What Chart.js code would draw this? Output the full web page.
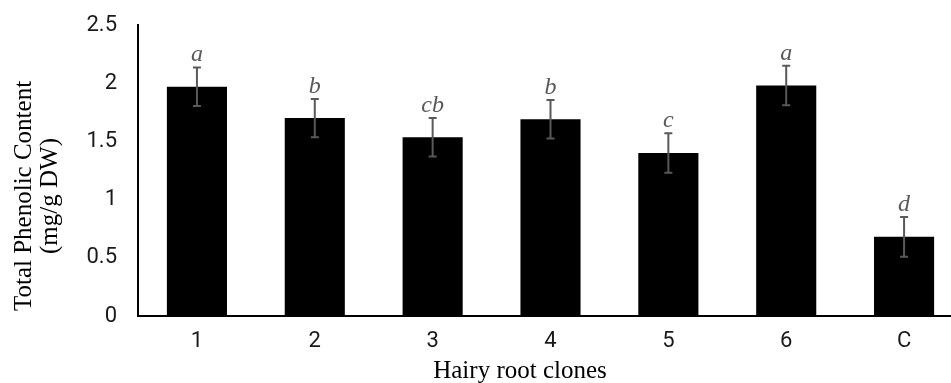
<!DOCTYPE html>
<html>
<head>
<meta charset="utf-8">
<script src="https://cdn.jsdelivr.net/npm/chart.js@4/dist/chart.umd.min.js"></script>
<style>
  html, body { margin: 0; padding: 0; background: #fff; overflow: hidden; }
  #wrap { width: 963px; height: 383px; position: relative; }
</style>
</head>
<body>
<div id="wrap"><canvas id="myChart"></canvas></div>
<script>
// chart data
var clones = ["1", "2", "3", "4", "5", "6", "C"];
var phenolic = [1.97, 1.70, 1.535, 1.69, 1.40, 1.98, 0.68];
var errors = [0.165, 0.165, 0.165, 0.165, 0.17, 0.17, 0.17];
var letters = ["a", "b", "cb", "b", "c", "a", "d"];
var yTicks = [0, 0.5, 1, 1.5, 2, 2.5];

Chart.defaults.font.family = "Roboto";
Chart.defaults.font.size = 22;
Chart.defaults.color = "#1a1a1a";

// error bars + significance letters
var errorBars = {
  id: "errorBars",
  afterDatasetsDraw: function (chart) {
    var ctx = chart.ctx;
    var xs = chart.scales.x;
    var ys = chart.scales.y;
    ctx.save();
    for (var i = 0; i < phenolic.length; i++) {
      var x = xs.getPixelForValue(i);
      var top = ys.getPixelForValue(phenolic[i] + errors[i]);
      var bot = ys.getPixelForValue(phenolic[i] - errors[i]);
      ctx.strokeStyle = "#595959";
      ctx.lineWidth = 2;
      ctx.beginPath();
      ctx.moveTo(x, top); ctx.lineTo(x, bot);
      ctx.moveTo(x - 4, top); ctx.lineTo(x + 4, top);
      ctx.moveTo(x - 4, bot); ctx.lineTo(x + 4, bot);
      ctx.stroke();
      ctx.fillStyle = "#595959";
      ctx.font = "italic 24px 'Liberation Serif'";
      ctx.textAlign = "center";
      ctx.textBaseline = "alphabetic";
      ctx.fillText(letters[i], x, top - 6);
    }
    ctx.restore();
  }
};

// axis titles (placed like the original figure)
var axisTitles = {
  id: "axisTitles",
  afterDraw: function (chart) {
    var ctx = chart.ctx;
    ctx.save();
    ctx.fillStyle = "#000";
    ctx.font = "25px 'Liberation Serif'";
    ctx.textAlign = "center";
    ctx.textBaseline = "alphabetic";
    ctx.fillText("Hairy root clones", 520, 378);
    ctx.translate(0, 196);
    ctx.rotate(-Math.PI / 2);
    ctx.fillText("Total Phenolic Content", 0, 31);
    ctx.fillText("(mg/g DW)", 0, 57);
    ctx.restore();
  }
};

var myChart = document.getElementById("myChart").getContext("2d");
var chart = new Chart(myChart, {
  type: "bar",
  data: {
    labels: clones,
    datasets: [
      {
        label: "Total Phenolic Content",
        data: phenolic,
        backgroundColor: "#000",
        borderWidth: 0,
        categoryPercentage: 1,
        barPercentage: 0.51,
      },
    ],
  },
  options: {
    responsive: true,
    maintainAspectRatio: false,
    animation: false,
    layout: { padding: { top: 25, right: 0, left: 0, bottom: 0 } },
    plugins: {
      legend: { display: false },
      tooltip: { enabled: false },
    },
    scales: {
      x: {
        grid: { display: false, drawTicks: false },
        border: { display: true, color: "#000", width: 2 },
        ticks: { padding: 12 },
        afterFit: function (s) {
          s.height = 67;
          s.paddingLeft = 0;
          s.paddingRight = 0;
        },
      },
      y: {
        min: 0,
        max: 2.5,
        afterBuildTicks: function (s) {
          s.ticks = yTicks.map(function (v) { return { value: v }; });
        },
        grid: { display: false, drawTicks: false },
        border: { display: true, color: "#000", width: 2 },
        ticks: {
          padding: 21,
          callback: function (v) { return String(v); },
        },
        afterFit: function (s) {
          s.width = 138;
          s.paddingTop = 0;
          s.paddingBottom = 0;
        },
      },
    },
  },
  plugins: [errorBars, axisTitles],
});
</script>
</body>
</html>
